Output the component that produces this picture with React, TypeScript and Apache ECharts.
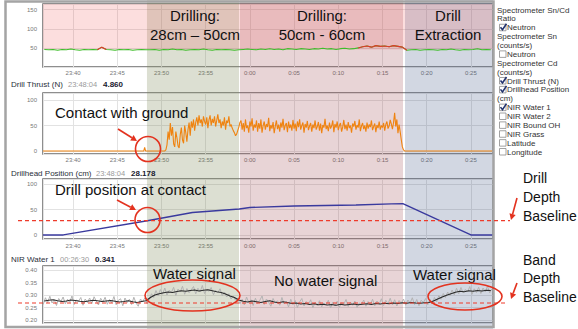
import React, { useEffect, useRef } from "react";
import * as echarts from "echarts";

// ---------------- data ----------------
// x values are minutes after 23:00 (60 = 0:00)
const xMinMinute = 36.6;
const xMaxMinute = 87.5;
const xTickStep = 5;

const phaseStarts = [48.36, 58.88, 77.55];
const phaseEnds = [58.77, 77.32, 87.5];
const phaseTitles = [
  ["Drilling:", "28cm – 50cm"],
  ["Drilling:", "50cm - 60cm"],
  ["Drill", "Extraction"],
];

// Spectrometer Sn/Cd ratio (neutron)
const neutronStart = 36.75;
const neutronStep = 0.5;
const neutronValues = [
  46, 45, 46, 44, 46, 45, 47, 45, 44, 46, 45, 46, 45, 52, 46, 45, 44, 46, 45, 46, 44, 45, 46, 45,
  45, 46, 44, 46, 45, 47, 45, 46, 44, 45, 46, 45, 47, 45, 44, 46, 45, 46, 45, 44,
  45, 46, 47, 46, 45, 47, 46, 48, 46, 47, 45, 48, 47, 46, 48, 47, 46, 48, 47, 49, 47, 48, 46, 48, 49, 47, 48, 50,
  53, 55, 52, 56, 54, 55, 53, 56, 54, 52,
  44, 45, 46, 44, 45, 46, 45, 44, 46, 45, 47, 45, 44, 46, 45, 46, 48, 45, 46, 45,
];
const neutronFillFrom = 46;
const neutronAlertLevel = 50.5;

// Drill thrust (N)
const thrustLeadTimes = [36.6, 48.0, 48.1, 48.2, 50.375];
const thrustLeadValues = [0, 0, 7, 0, 0];
const thrustStart = 50.5;
const thrustStep = 0.125;
const thrustValues = [
  2, 12, 38, 22,
  55, 30, 47, 14, 8, 38, 26, 10,
  6, 32, 46, 22, 15, 50, 36, 18,
  42, 56, 30, 58, 46, 62, 40, 56,
  66, 50, 70, 55, 62, 48, 68, 58,
  52, 66, 45, 61, 70, 50, 63, 55,
  68, 48, 60, 72, 55, 62, 45, 58,
  50, 66, 42, 60, 55, 68, 48, 52,
  45, 40, 36, 30, 33, 40, 47, 56,
  60, 42, 55, 38, 62, 45, 50, 36, 58, 48, 64, 40, 52, 46, 60, 38,
  55, 44, 62, 36, 50, 58, 42, 53, 47, 65, 39, 51, 44, 57, 35, 49,
  60, 43, 52, 38, 56, 46, 63, 41, 50, 55, 37, 58, 45, 52, 40, 61,
  44, 54, 39, 58, 47, 62, 42, 50, 56, 36, 53, 46, 59, 41, 49, 55,
  38, 52, 45, 60, 42, 48, 57, 40, 54, 35, 51, 46, 63, 43, 50, 39,
  56, 44, 49, 60, 37, 53, 46, 58, 41, 50, 55, 38, 47, 61, 43, 52,
  40, 57, 45, 50, 36, 54, 48, 59, 42, 51, 46, 62, 39, 49, 55, 43,
  50, 38, 56, 44, 52, 47, 60, 41, 48, 54, 37, 51, 45, 58, 42, 50,
  46, 55, 40, 52, 58, 44, 49, 61, 53, 43, 56, 75, 48, 62, 35, 52,
  38, 22, 8, 2,
];
const thrustTailTimes = [77.5, 87.5];
const thrustTailValues = [0, 0];

// Drillhead position (cm)
const positionTimes = [36.6, 38.9, 48.4, 53.5, 58.8, 60, 65, 72, 76, 77.3, 85, 87.5];
const positionValues = [0, 0, 28, 44, 51, 54, 57, 59, 61, 61.5, 0, 0];

// NIR Water 1 – raw readings
const nirRawStart = 36.625;
const nirRawStep = 0.25;
const nirRawValues = [
  0.262, 0.289, 0.270, 0.295, 0.268, 0.281, 0.258, 0.286, 0.274, 0.292, 0.265, 0.283,
  0.271, 0.296, 0.262, 0.280, 0.275, 0.290, 0.259, 0.284, 0.270, 0.288, 0.266, 0.293,
  0.276, 0.260, 0.287, 0.272, 0.291, 0.263, 0.282, 0.269, 0.294, 0.261, 0.279, 0.285,
  0.257, 0.288, 0.270, 0.283, 0.262, 0.291, 0.268, 0.255, 0.284, 0.273, 0.289, 0.266,
  0.282, 0.305, 0.290, 0.318, 0.297, 0.322, 0.303, 0.328, 0.300, 0.319, 0.310, 0.331,
  0.298, 0.324, 0.312, 0.335, 0.303, 0.326, 0.309, 0.321, 0.334, 0.305, 0.327, 0.313,
  0.338, 0.306, 0.322, 0.315, 0.330, 0.301, 0.318, 0.309, 0.325, 0.297, 0.312, 0.292,
  0.305, 0.284, 0.296, 0.279,
  0.288, 0.265, 0.283, 0.260, 0.292, 0.270, 0.281, 0.258, 0.287, 0.266, 0.279, 0.296,
  0.262, 0.284, 0.271, 0.255, 0.286, 0.268, 0.277, 0.259, 0.290, 0.264, 0.275, 0.252,
  0.283, 0.261, 0.278, 0.250, 0.272, 0.286, 0.256, 0.274, 0.262, 0.281, 0.249, 0.270,
  0.258, 0.277, 0.253, 0.268, 0.260, 0.279, 0.248, 0.271, 0.256, 0.275, 0.251, 0.269,
  0.263, 0.282, 0.254, 0.272, 0.259, 0.276, 0.250, 0.268,
  0.262, 0.280, 0.255, 0.274, 0.260, 0.283, 0.257, 0.276, 0.263, 0.285, 0.258, 0.279,
  0.265, 0.287, 0.260, 0.281, 0.256, 0.278, 0.266, 0.284, 0.259, 0.280, 0.268, 0.289,
  0.262, 0.282, 0.257, 0.279, 0.270, 0.286, 0.261, 0.283,
  0.265, 0.290, 0.272, 0.298, 0.283, 0.306, 0.290, 0.312, 0.297, 0.320, 0.301, 0.327,
  0.305, 0.330, 0.308, 0.322, 0.312, 0.334, 0.303, 0.325, 0.310, 0.331, 0.306, 0.328,
  0.313, 0.335, 0.309, 0.324,
];
// NIR Water 1 – smoothed
const nirSmoothStart = 36.75;
const nirSmoothStep = 0.5;
const nirSmoothValues = [
  0.276, 0.279, 0.281, 0.277, 0.274, 0.276, 0.280, 0.278, 0.275, 0.273, 0.276, 0.279,
  0.277, 0.274, 0.276, 0.278, 0.275, 0.272, 0.274, 0.277, 0.273, 0.270, 0.274, 0.277,
  0.290, 0.300, 0.305, 0.309, 0.312, 0.310, 0.314, 0.317, 0.315, 0.318, 0.320, 0.316,
  0.319, 0.321, 0.317, 0.313, 0.310, 0.304, 0.296, 0.290,
  0.280, 0.275, 0.272, 0.276, 0.273, 0.270, 0.274, 0.277, 0.272, 0.269, 0.273, 0.270,
  0.266, 0.268, 0.264, 0.266, 0.262, 0.265, 0.261, 0.263, 0.260, 0.262, 0.259, 0.263,
  0.260, 0.262, 0.264, 0.261,
  0.263, 0.265, 0.262, 0.266, 0.264, 0.267, 0.265, 0.268, 0.266, 0.269, 0.267, 0.270,
  0.268, 0.267, 0.269, 0.270,
  0.276, 0.284, 0.292, 0.299, 0.305, 0.311, 0.315, 0.313, 0.317, 0.315, 0.318, 0.316,
  0.319, 0.318,
];

const drillBaseline = 28.178;
const bandBaseline = 0.268;

const yTickSteps = [50, 50, 50, 0.05];

const panelTitles = ["Drill Thrust (N)", "Drillhead Position (cm)", "NIR Water 1"];
const panelStamps = ["23:48:04", "23:48:04", "00:26:30"];
const panelReadings = ["4.860", "28.178", "0.341"];

const legendLabels = [
  "Spectrometer Sn/Cd", "Ratio", "Neutron", "Spectrometer Sn", "(counts/s)", "Neutron",
  "Spectrometer Cd", "(counts/s)", "Drill Thrust (N)", "Drillhead Position", "(cm)",
  "NIR Water 1", "NIR Water 2", "NIR Bound OH", "NIR Grass", "Latitude", "Longitude",
];
// 0 = no box, 1 = checked, 2 = unchecked
const legendBoxes = [0, 0, 1, 0, 0, 2, 0, 0, 1, 1, 0, 1, 2, 2, 2, 2, 2];

// ---------------- helpers ----------------
const FONT = "'Liberation Sans', Arial, Helvetica, sans-serif";
const RED = "#e3321f";

const series = (start: number, step: number, vals: number[]) =>
  vals.map((v, i) => [start + i * step, v]);
const pairs = (ts: number[], vs: number[]) => ts.map((t, i) => [t, vs[i]]);

const fmtTime = (v: number) => {
  const m = Math.round(v);
  const h = m < 60 ? 23 : 0;
  return `${h}:${String(m % 60).padStart(2, "0")}`;
};

const GRID_LEFT = 43;
const GRID_W = 450;
const grids = [
  { top: 4, height: 63 },
  { top: 93, height: 61 },
  { top: 179, height: 60 },
  { top: 266, height: 57 },
];
const yRanges = [
  [0, 165],
  [-6, 114],
  [-8, 110],
  [0.188, 0.416],
];

function text(x: number, y: number, t: string, size: number, opts: any = {}) {
  return {
    type: "text",
    x,
    y,
    z: 100,
    silent: true,
    style: {
      text: t,
      fill: opts.fill || "#111",
      font: `${opts.weight || "normal"} ${size}px ${FONT}`,
      align: opts.align || "left",
      verticalAlign: "middle",
    },
  };
}

function arrow(x1: number, y1: number, x2: number, y2: number) {
  const a = Math.atan2(y2 - y1, x2 - x1);
  const L = 6;
  const W = 3.2;
  const bx = x2 - L * Math.cos(a);
  const by = y2 - L * Math.sin(a);
  const px = -Math.sin(a) * W;
  const py = Math.cos(a) * W;
  return [
    { type: "line", z: 100, silent: true, shape: { x1, y1, x2: bx, y2: by }, style: { stroke: RED, lineWidth: 1.6 } },
    {
      type: "polygon",
      z: 100,
      silent: true,
      shape: { points: [[x2, y2], [bx + px, by + py], [bx - px, by - py]] },
      style: { fill: RED },
    },
  ];
}

function ellipse(cx: number, cy: number, rx: number, ry: number) {
  return {
    type: "ellipse",
    z: 100,
    silent: true,
    shape: { cx, cy, rx, ry },
    style: { fill: "none", stroke: RED, lineWidth: 1.6 },
  };
}

const bandColors = ["rgba(120,130,80,0.26)", "rgba(150,60,70,0.22)", "rgba(60,80,130,0.23)"];

function buildGraphics(px: (axis: string, idx: number, v: number) => number) {
  const g: any[] = [];
  // phase bands over the whole dashboard height
  phaseStarts.forEach((s, i) => {
    const x1 = px("x", 0, s);
    const x2 = px("x", 0, phaseEnds[i]);
    g.push({
      type: "rect",
      z: 1,
      silent: true,
      shape: { x: x1, y: 0, width: x2 - x1, height: 329 },
      style: { fill: bandColors[i] },
    });
  });
  // pink fill above the neutron level in panel 1
  {
    const x1 = px("x", 0, xMinMinute);
    const x2 = px("x", 0, xMaxMinute);
    const yTop = px("y", 0, yRanges[0][1]);
    const yBot = px("y", 0, neutronFillFrom);
    g.push({
      type: "rect",
      z: 1,
      silent: true,
      shape: { x: x1, y: yTop, width: x2 - x1, height: yBot - yTop },
      style: { fill: "rgba(238,90,90,0.2)" },
    });
  }
  g.push({
    type: "rect",
    z: 50,
    silent: true,
    shape: { x: 5.5, y: 1.5, width: 488, height: 325.5 },
    style: { fill: "none", stroke: "#a4a4a4", lineWidth: 2.5 },
  });
  const phaseCx = [195, 322, 448];
  phaseTitles.forEach((lines, i) => {
    g.push(text(phaseCx[i], 15, lines[0], 15, { align: "center" }));
    g.push(text(phaseCx[i], 34, lines[1], 15, { align: "center" }));
  });
  const titleY = [84, 173, 259];
  const stampX = [68, 96, 60];
  const readX = [103, 131, 95];
  panelTitles.forEach((t, i) => {
    g.push(text(11, titleY[i], t, 8, { fill: "#2a2f3a" }));
    g.push(text(stampX[i], titleY[i], panelStamps[i], 7.5, { fill: "#9a9a9a" }));
    g.push(text(readX[i], titleY[i], panelReadings[i], 8, { fill: "#1a2030", weight: "bold" }));
  });
  legendLabels.forEach((lab, i) => {
    const y = 10 + i * 8.875;
    const box = legendBoxes[i];
    if (box) {
      g.push({
        type: "rect",
        z: 100,
        silent: true,
        shape: { x: 499.5, y: y - 3.5, width: 6.5, height: 6.5 },
        style: { fill: "#fff", stroke: "#8a8a8a", lineWidth: 0.8 },
      });
      if (box === 1) {
        g.push({
          type: "polyline",
          z: 101,
          silent: true,
          shape: { points: [[500.5, y - 0.5], [502.5, y + 2], [506.5, y - 4]] },
          style: { stroke: "#23336e", lineWidth: 1.6, fill: "none" },
        });
      }
      g.push(text(507, y, lab, 8, { fill: "#333" }));
    } else {
      g.push(text(497, y, lab, 8, { fill: "#333" }));
    }
  });
  g.push(text(55, 112, "Contact with ground", 15));
  g.push(...arrow(118, 129, 137, 141));
  g.push(ellipse(148, 149, 12.5, 12.5));

  g.push(text(55, 189, "Drill position at contact", 15));
  g.push(...arrow(117, 200, 136, 210));
  g.push(ellipse(147.5, 220, 12.5, 12.5));

  g.push(text(153, 273, "Water signal", 15));
  g.push(text(274, 280, "No water signal", 15));
  g.push(text(413, 274, "Water signal", 15));
  g.push(ellipse(192.5, 295.5, 47.5, 15.5));
  g.push(ellipse(465, 296.5, 37, 13.5));

  const drillY = px("y", 2, drillBaseline);
  const bandY = px("y", 3, bandBaseline);
  g.push({
    type: "line",
    z: 90,
    silent: true,
    shape: { x1: 18, y1: drillY, x2: 510, y2: drillY },
    style: { stroke: "#ee3b2b", lineWidth: 1.2, lineDash: [4, 3] },
  });
  g.push({
    type: "line",
    z: 90,
    silent: true,
    shape: { x1: 18, y1: bandY, x2: 508, y2: bandY },
    style: { stroke: "#ee3b2b", lineWidth: 1.2, lineDash: [4, 3] },
  });
  g.push(text(523, 178, "Drill", 14));
  g.push(text(523, 197, "Depth", 14));
  g.push(text(523, 216, "Baseline", 14));
  g.push(...arrow(517, 198, 511, 220));
  g.push(text(523, 260, "Band", 14));
  g.push(text(523, 278, "Depth", 14));
  g.push(text(523, 297, "Baseline", 14));
  g.push(...arrow(517, 283, 511, 299));
  return g;
}

export default function App() {
  const ref = useRef<HTMLDivElement>(null);
  useEffect(() => {
    if (!ref.current) return;
    const chart = echarts.init(ref.current, undefined, { renderer: "svg" });

    const xAxes: any[] = grids.map((_, i) => ({
      type: "value",
      gridIndex: i,
      min: xMinMinute,
      max: xMaxMinute,
      splitNumber: 10,
      minInterval: xTickStep,
      maxInterval: xTickStep,
      axisLine: { show: false },
      axisTick: { show: false },
      axisLabel: {
        show: i < 3,
        showMinLabel: false,
        showMaxLabel: false,
        formatter: fmtTime,
        fontSize: 6,
        color: "#777",
        margin: i === 2 ? 4 : 3,
        fontFamily: FONT,
      },
      splitLine: { show: true, lineStyle: { color: "#e2e2e2", width: 1 } },
    }));

    const yAxes: any[] = grids.map((_, i) => ({
      type: "value",
      gridIndex: i,
      min: yRanges[i][0],
      max: yRanges[i][1],
      splitNumber: 4,
      minInterval: yTickSteps[i],
      maxInterval: yTickSteps[i],
      axisLine: { show: false },
      axisTick: { show: false },
      axisLabel: {
        showMinLabel: false,
        showMaxLabel: false,
        formatter: (v: number) => (i === 3 ? v.toFixed(2) : String(Math.round(v))),
        fontSize: 6,
        color: "#777",
        margin: 6,
        fontFamily: FONT,
      },
      splitLine: { show: true, lineStyle: { color: "#e2e2e2", width: 1 } },
    }));

    const thrustData = [
      ...pairs(thrustLeadTimes, thrustLeadValues),
      ...series(thrustStart, thrustStep, thrustValues),
      ...pairs(thrustTailTimes, thrustTailValues),
    ];

    const neutronData = series(neutronStart, neutronStep, neutronValues);
    // red overlay where the ratio exceeds the alert level
    const neutronAlertData = neutronData.map((p, i) => {
      const hot = (k: number) => k >= 0 && k < neutronValues.length && neutronValues[k] >= neutronAlertLevel;
      return hot(i) || hot(i - 1) || hot(i + 1) ? p : [p[0], null];
    });

    chart.setOption({
      animation: false,
      backgroundColor: "#fff",
      grid: grids.map((g) => ({
        left: GRID_LEFT,
        width: GRID_W,
        top: g.top,
        height: g.height,
        show: true,
        borderColor: "#6a6a6a",
        borderWidth: 1.5,
        backgroundColor: "transparent",
      })),
      xAxis: xAxes,
      yAxis: yAxes,
      series: [
        {
          type: "line",
          xAxisIndex: 0,
          yAxisIndex: 0,
          z: 3,
          symbol: "none",
          lineStyle: { width: 1.1, color: "#3dbd29" },
          data: neutronData,
        },
        {
          type: "line",
          xAxisIndex: 0,
          yAxisIndex: 0,
          z: 4,
          symbol: "none",
          connectNulls: false,
          lineStyle: { width: 1.1, color: "#e5352a" },
          data: neutronAlertData,
        },
        {
          type: "line",
          xAxisIndex: 1,
          yAxisIndex: 1,
          z: 3,
          symbol: "none",
          lineStyle: { width: 1.1, color: "#ef8310" },
          data: thrustData,
        },
        {
          type: "line",
          xAxisIndex: 2,
          yAxisIndex: 2,
          z: 3,
          symbol: "none",
          lineStyle: { width: 1.4, color: "#3a3a9e" },
          data: pairs(positionTimes, positionValues),
        },
        {
          type: "line",
          xAxisIndex: 3,
          yAxisIndex: 3,
          z: 3,
          symbol: "none",
          lineStyle: { width: 1, color: "#b3b3b3" },
          data: series(nirRawStart, nirRawStep, nirRawValues),
        },
        {
          type: "line",
          xAxisIndex: 3,
          yAxisIndex: 3,
          z: 4,
          symbol: "none",
          lineStyle: { width: 1.2, color: "#2b2b2b" },
          data: series(nirSmoothStart, nirSmoothStep, nirSmoothValues),
        },
      ],
    });

    const px = (axis: string, idx: number, v: number) =>
      chart.convertToPixel((axis === "x" ? { xAxisIndex: idx } : { yAxisIndex: idx }) as any, v) as number;
    try {
      chart.setOption({ graphic: buildGraphics(px) });
    } catch (e) {
      console.error(e);
    }

    return () => chart.dispose();
  }, []);

  return (
    <div
      ref={ref}
      style={{ position: "fixed", left: 0, top: 0, width: 578, height: 329, background: "#fff" }}
    />
  );
}
